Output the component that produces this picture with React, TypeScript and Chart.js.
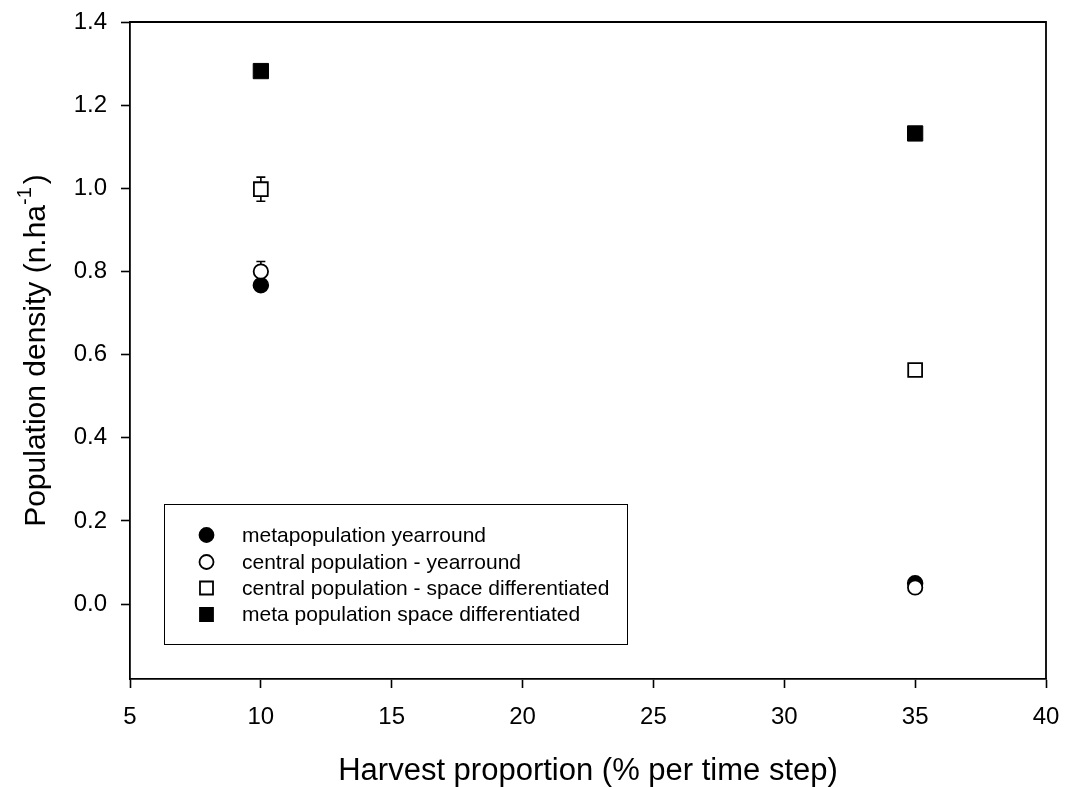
import React, { useEffect, useRef } from "react";
import { Chart, registerables } from "chart.js";
Chart.register(...registerables);

const harvest = [10, 35];
const metaYearround = [0.767, 0.05];
const centralYearround = [0.8, 0.04];
const centralSpace = [0.998, 0.563];
const metaSpace = [1.282, 1.132];
const centralYearroundErr = [0.024, 0];
const centralSpaceErr = [0.029, 0];
const xTickValues = [5, 10, 15, 20, 25, 30, 35, 40];
const yTickValues = [0, 0.2, 0.4, 0.6, 0.8, 1.0, 1.2, 1.4];
const seriesLabels = [
  "metapopulation yearround",
  "central population - yearround",
  "central population - space differentiated",
  "meta population space differentiated",
];
const xTitle = "Harvest proportion (% per time step)";
const yTitleMain = "Population density (n.ha";
const yTitleSup = "-1";
const yTitleEnd = ")";

const FONT = "'Liberation Sans', Arial, sans-serif";

const zeroPad = (s: any) => {
  s.paddingTop = 0;
  s.paddingBottom = 0;
  s.paddingLeft = 0;
  s.paddingRight = 0;
};

const frameAndExtras = {
  id: "frameAndExtras",
  beforeDatasetsDraw(chart: any) {
    const ctx = chart.ctx;
    const xs = chart.scales.x;
    const ys = chart.scales.y;
    ctx.save();
    ctx.strokeStyle = "#000";
    ctx.lineWidth = 1.6;
    chart.data.datasets.forEach((ds: any) => {
      if (!ds.err) return;
      ds.data.forEach((p: any, i: number) => {
        const e = ds.err[i];
        if (!e) return;
        const px = xs.getPixelForValue(p.x);
        const y1 = ys.getPixelForValue(p.y + e);
        const y2 = ys.getPixelForValue(p.y - e);
        ctx.beginPath();
        ctx.moveTo(px, y1);
        ctx.lineTo(px, y2);
        ctx.moveTo(px - 4.5, y1);
        ctx.lineTo(px + 4.5, y1);
        ctx.moveTo(px - 4.5, y2);
        ctx.lineTo(px + 4.5, y2);
        ctx.stroke();
      });
    });
    ctx.restore();
  },
  afterDraw(chart: any) {
    const ctx = chart.ctx;
    const a = chart.chartArea;
    ctx.save();
    ctx.strokeStyle = "#000";
    ctx.lineWidth = 1.8;
    ctx.beginPath();
    ctx.moveTo(a.left, a.top);
    ctx.lineTo(a.right, a.top);
    ctx.lineTo(a.right, a.bottom);
    ctx.stroke();

    // legend
    const lx = 164, ly = 504, lw = 463, lh = 140;
    ctx.lineWidth = 1;
    ctx.strokeStyle = "#000";
    ctx.fillStyle = "#fff";
    ctx.fillRect(lx, ly, lw, lh);
    ctx.strokeRect(lx + 0.5, ly + 0.5, lw, lh);
    const rows = [535, 562, 588, 614.5];
    ctx.font = `21px ${FONT}`;
    ctx.textBaseline = "middle";
    ctx.textAlign = "left";
    chart.data.datasets.forEach((ds: any, i: number) => {
      const cy = rows[i];
      const cx = 206.5;
      ctx.lineWidth = 1.8;
      ctx.strokeStyle = "#000";
      ctx.fillStyle = ds.backgroundColor;
      ctx.beginPath();
      if (ds.pointStyle === "circle") {
        ctx.arc(cx, cy, 7, 0, Math.PI * 2);
      } else {
        ctx.rect(cx - 6.5, cy - 6.5, 13, 13);
      }
      ctx.fill();
      ctx.stroke();
      ctx.fillStyle = "#000";
      ctx.fillText(ds.label, 242, cy + 1);
    });

    // axis titles
    ctx.fillStyle = "#000";
    ctx.font = `31px ${FONT}`;
    ctx.textAlign = "center";
    ctx.textBaseline = "middle";
    ctx.fillText(xTitle, (a.left + a.right) / 2, 771);

    ctx.save();
    ctx.translate(37, (a.top + a.bottom) / 2);
    ctx.rotate(-Math.PI / 2);
    const mainFont = `30px ${FONT}`;
    const supFont = `20px ${FONT}`;
    ctx.font = mainFont;
    const w1 = ctx.measureText(yTitleMain).width;
    const w3 = ctx.measureText(yTitleEnd).width;
    ctx.font = supFont;
    const w2 = ctx.measureText(yTitleSup).width;
    const total = w1 + w2 + w3 + 3;
    let x0 = -total / 2;
    ctx.textAlign = "left";
    ctx.font = mainFont;
    ctx.fillText(yTitleMain, x0, 0);
    x0 += w1;
    ctx.font = supFont;
    ctx.fillText(yTitleSup, x0, -12);
    x0 += w2 + 3;
    ctx.font = mainFont;
    ctx.fillText(yTitleEnd, x0, 0);
    ctx.restore();

    ctx.restore();
  },
};

export default function App() {
  const ref = useRef<HTMLCanvasElement | null>(null);
  useEffect(() => {
    document.body.style.margin = "0";
    const mk = (vals: number[]) => harvest.map((x, i) => ({ x, y: vals[i] }));
    const chart = new Chart(ref.current!, {
      type: "scatter",
      data: {
        datasets: [
          {
            label: seriesLabels[0],
            data: mk(metaYearround),
            pointStyle: "circle",
            pointRadius: 7.5,
            pointHoverRadius: 7.5,
            backgroundColor: "#000",
            borderColor: "#000",
            pointBorderWidth: 1.5,
            order: 4,
          } as any,
          {
            label: seriesLabels[1],
            data: mk(centralYearround),
            err: centralYearroundErr,
            pointStyle: "circle",
            pointRadius: 7.2,
            pointHoverRadius: 7.2,
            backgroundColor: "#fff",
            borderColor: "#000",
            pointBorderWidth: 1.8,
            order: 3,
          } as any,
          {
            label: seriesLabels[2],
            data: mk(centralSpace),
            err: centralSpaceErr,
            pointStyle: "rect",
            pointRadius: 9.8,
            pointHoverRadius: 9.8,
            backgroundColor: "#fff",
            borderColor: "#000",
            pointBorderWidth: 1.8,
            order: 2,
          } as any,
          {
            label: seriesLabels[3],
            data: mk(metaSpace),
            pointStyle: "rect",
            pointRadius: 10.8,
            pointHoverRadius: 10.8,
            backgroundColor: "#000",
            borderColor: "#000",
            pointBorderWidth: 1,
            order: 1,
          } as any,
        ],
      },
      options: {
        animation: false,
        responsive: false,
        maintainAspectRatio: false,
        layout: { padding: { top: 22, right: 20, left: 0, bottom: 0 } },
        plugins: { legend: { display: false }, tooltip: { enabled: false } },
        scales: {
          x: {
            type: "linear",
            min: 5,
            max: 40,
            afterFit: (s: any) => {
              s.height = 108;
              zeroPad(s);
            },
            afterBuildTicks: (s: any) => {
              s.ticks = xTickValues.map((v) => ({ value: v }));
            },
            border: { display: true, color: "#000", width: 1.8 },
            grid: {
              display: true,
              drawOnChartArea: false,
              drawTicks: true,
              tickLength: 9,
              tickWidth: 1.6,
              tickColor: "#000",
            },
            ticks: {
              color: "#000",
              font: { family: FONT, size: 24 },
              padding: 15,
              maxRotation: 0,
              callback: (v: any) => String(v),
            },
          },
          y: {
            type: "linear",
            min: -0.18,
            max: 1.4,
            afterFit: (s: any) => {
              s.width = 130;
              zeroPad(s);
            },
            afterBuildTicks: (s: any) => {
              s.ticks = yTickValues.map((v) => ({ value: v }));
            },
            border: { display: true, color: "#000", width: 1.8 },
            grid: {
              display: true,
              drawOnChartArea: false,
              drawTicks: true,
              tickLength: 9,
              tickWidth: 1.6,
              tickColor: "#000",
            },
            ticks: {
              color: "#000",
              font: { family: FONT, size: 24 },
              padding: 14,
              callback: (v: any) => Number(v).toFixed(1),
            },
          },
        },
      },
      plugins: [frameAndExtras],
    });
    return () => chart.destroy();
  }, []);
  return <canvas ref={ref} width={1066} height={787} style={{ display: "block" }} />;
}
